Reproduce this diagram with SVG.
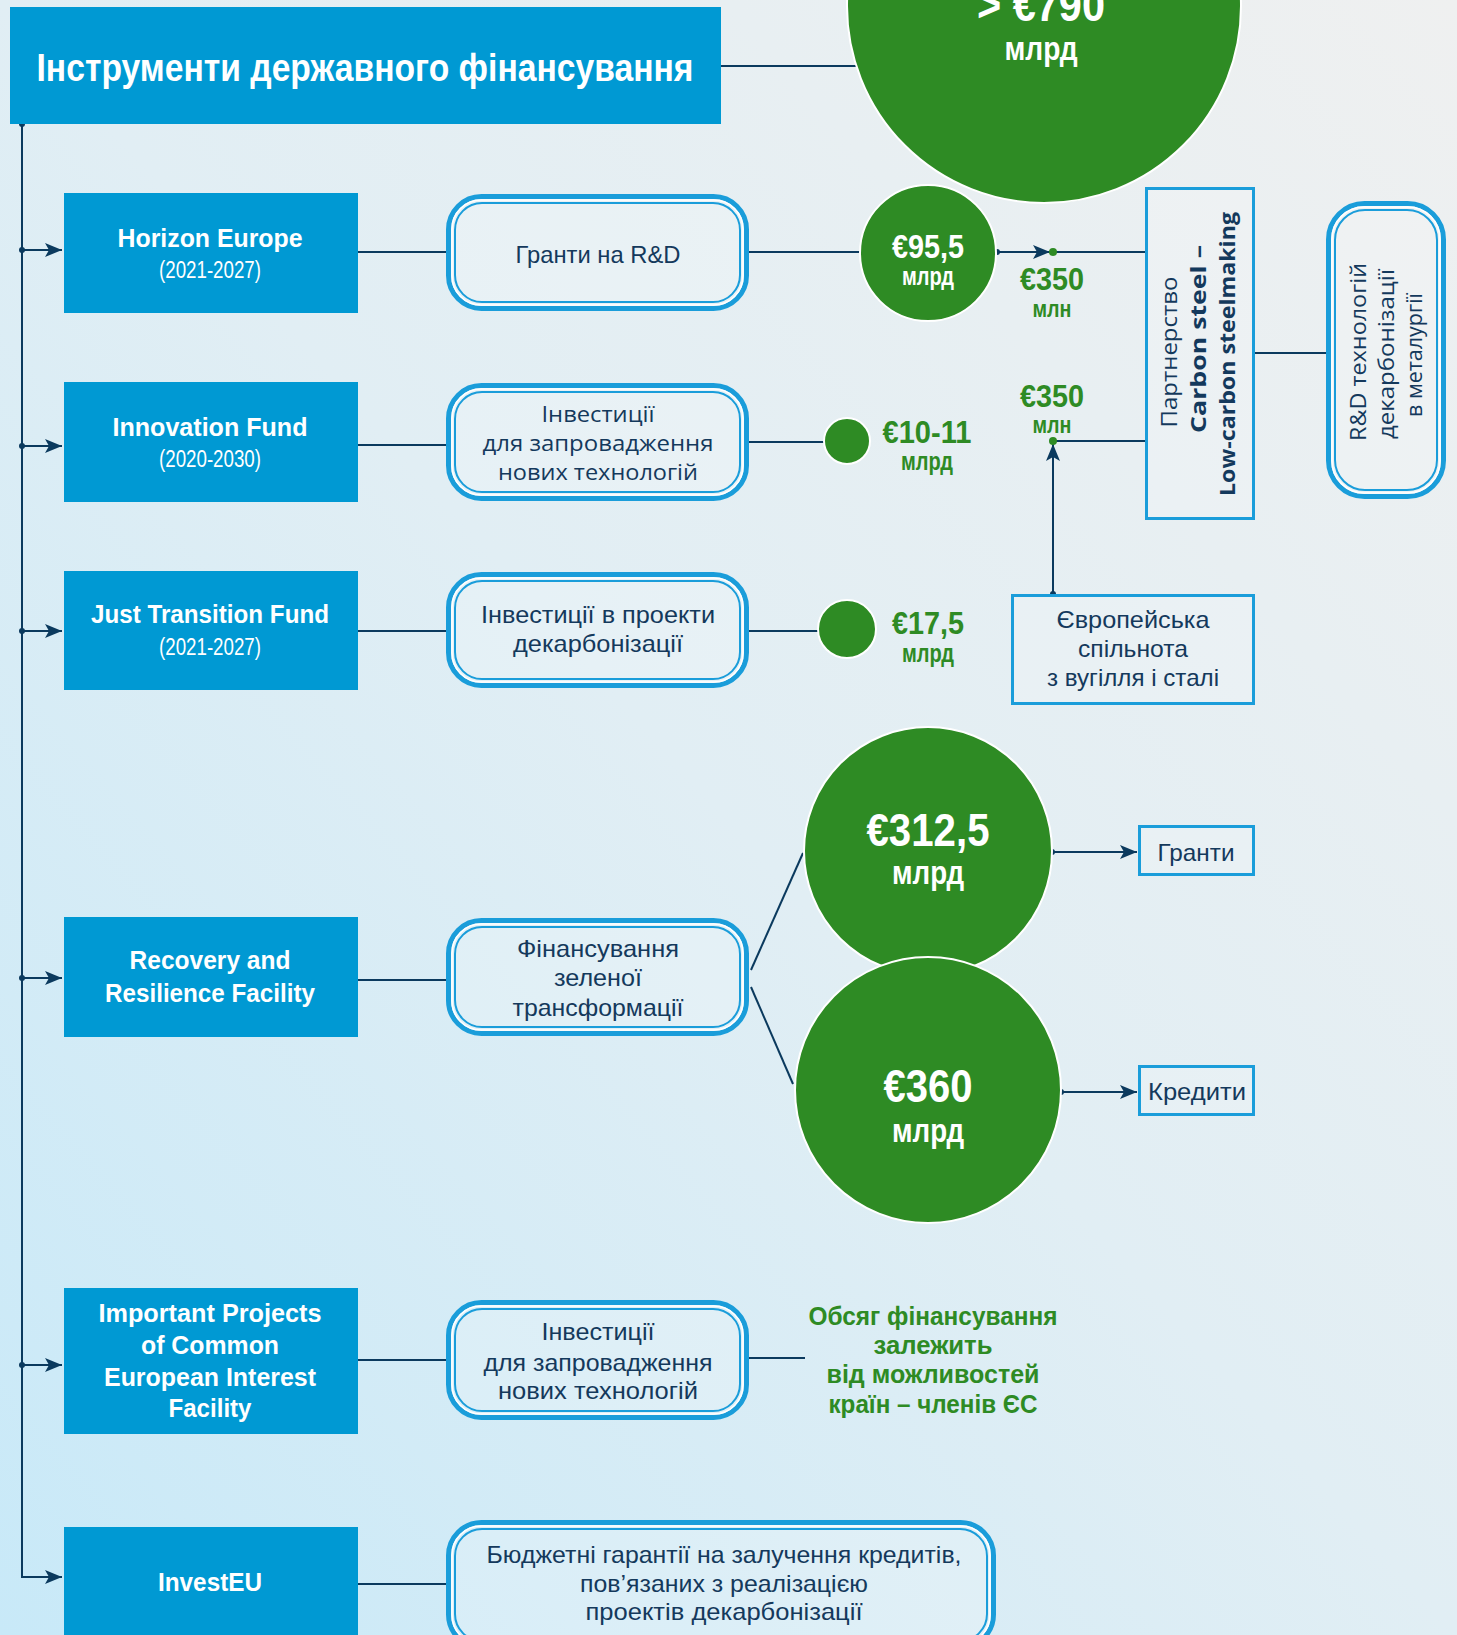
<svg xmlns="http://www.w3.org/2000/svg" width="1457" height="1635" viewBox="0 0 1457 1635">
<defs>
<linearGradient id="bg" x1="0" y1="1" x2="1" y2="0">
<stop offset="0" stop-color="#c8e9f8"/>
<stop offset="0.5" stop-color="#e1eef4"/>
<stop offset="1" stop-color="#eff0f0"/>
</linearGradient>
<marker id="arr" markerUnits="userSpaceOnUse" markerWidth="18" markerHeight="14" refX="17" refY="7" orient="auto">
<path d="M0,0 L17,7 L0,14 L4,7 Z" fill="#0b3a5e"/>
</marker>
<style>
.ln{fill:none;stroke:#0b3a5e;stroke-width:2}
.dot{fill:#0b3a5e}
.gdot{fill:#2e8b24}
.bb{fill:#0099d3}
.rbo{fill:#ffffff;fill-opacity:0.18;stroke:#1a9dda;stroke-width:5}
.rbg{fill:none;stroke:#ffffff;stroke-width:1.6}
.rbi{fill:none;stroke:#1a9dda;stroke-width:2}
.sq{fill:#ffffff;fill-opacity:0.15;stroke:#1a9dda;stroke-width:3}
.gc{fill:#2e8b24;stroke:#ffffff;stroke-width:2}
.tw{fill:#ffffff;font-family:"Liberation Sans",Arial,sans-serif;font-weight:bold;text-anchor:middle}
.twr{fill:#ffffff;font-family:"Liberation Sans",Arial,sans-serif;font-weight:normal;text-anchor:middle}
.tn{fill:#14395c;font-family:"Liberation Sans",Arial,sans-serif;text-anchor:middle}
.to{fill:#14395c;font-family:"Open Sans","Liberation Sans",sans-serif;text-anchor:middle}
.tg{fill:#2e8b24;font-family:"Liberation Sans",Arial,sans-serif;font-weight:bold;text-anchor:middle}
</style>
</defs>
<rect x="0" y="0" width="1457" height="1635" fill="url(#bg)"/>

<g id="connectors">
<path class="ln" d="M22 124 V1577 H62" marker-end="url(#arr)"/>
<path class="ln" d="M22 250 H62" marker-end="url(#arr)"/>
<path class="ln" d="M22 446 H62" marker-end="url(#arr)"/>
<path class="ln" d="M22 631 H62" marker-end="url(#arr)"/>
<path class="ln" d="M22 978 H62" marker-end="url(#arr)"/>
<path class="ln" d="M22 1365 H62" marker-end="url(#arr)"/>
<circle class="dot" cx="22" cy="124" r="3"/>
<circle class="dot" cx="22" cy="250" r="3"/>
<circle class="dot" cx="22" cy="446" r="3"/>
<circle class="dot" cx="22" cy="631" r="3"/>
<circle class="dot" cx="22" cy="978" r="3"/>
<circle class="dot" cx="22" cy="1365" r="3"/>
<path class="ln" d="M721 66 H870"/>
<path class="ln" d="M358 252 H446"/>
<path class="ln" d="M749 252 H862"/>
<path class="ln" d="M358 445 H446"/>
<path class="ln" d="M749 442 H826"/>
<path class="ln" d="M358 631 H446"/>
<path class="ln" d="M749 631 H819"/>
<path class="ln" d="M358 980 H446"/>
<path class="ln" d="M751 970 L803 853"/>
<path class="ln" d="M751 987 L793 1084"/>
<path class="ln" d="M358 1360 H446"/>
<path class="ln" d="M749 1358 H805"/>
<path class="ln" d="M358 1584 H446"/>
<path class="ln" d="M997 252 H1050" marker-end="url(#arr)"/>
<circle class="dot" cx="997" cy="252" r="3"/>
<path class="ln" d="M1053 252 H1145"/>
<circle class="gdot" cx="1053" cy="252" r="4"/>
<path class="ln" d="M1053 441 H1145"/>
<path class="ln" d="M1053 594 V444" marker-end="url(#arr)"/>
<circle class="dot" cx="1053" cy="594" r="3"/>
<circle class="gdot" cx="1053" cy="441" r="4"/>
<path class="ln" d="M1255 353 H1326"/>
<path class="ln" d="M1052 852 H1137" marker-end="url(#arr)"/>
<circle class="dot" cx="1052" cy="852" r="3"/>
<path class="ln" d="M1061 1092 H1137" marker-end="url(#arr)"/>
<circle class="dot" cx="1061" cy="1092" r="3"/>
</g>

<g id="title">
<rect class="bb" x="10" y="7" width="711" height="117"/>
<text class="tw" x="365" y="81" font-size="38" textLength="657" lengthAdjust="spacingAndGlyphs">Інструменти державного фінансування</text>
</g>

<g id="total">
<circle class="gc" cx="1044" cy="6" r="197"/>
<text class="tw" x="1041" y="21" font-size="46" textLength="128" lengthAdjust="spacingAndGlyphs">&gt; €790</text>
<text class="tw" x="1041" y="60" font-size="34" textLength="73" lengthAdjust="spacingAndGlyphs">млрд</text>
</g>

<g id="horizon">
<rect class="bb" x="64" y="193" width="294" height="120"/>
<text class="tw" x="210" y="247" font-size="25" textLength="185" lengthAdjust="spacingAndGlyphs">Horizon Europe</text>
<text class="twr" x="210" y="278" font-size="23" textLength="102" lengthAdjust="spacingAndGlyphs">(2021-2027)</text>
</g>
<g id="horizon-grants">
<rect class="rbo" x="448.5" y="196.5" width="298" height="112" rx="33"/>
<rect class="rbg" x="452" y="200" width="291" height="105" rx="29"/>
<rect class="rbi" x="455" y="203" width="285" height="99" rx="27"/>
<text class="tn" x="598" y="263" font-size="24" textLength="165" lengthAdjust="spacingAndGlyphs">Гранти на R&amp;D</text>
</g>
<g id="c955">
<circle class="gc" cx="928" cy="253" r="68"/>
<text class="tw" x="928" y="258" font-size="33" textLength="72" lengthAdjust="spacingAndGlyphs">€95,5</text>
<text class="tw" x="928" y="285" font-size="25" textLength="52" lengthAdjust="spacingAndGlyphs">млрд</text>
</g>
<g id="l350a">
<text class="tg" x="1052" y="290" font-size="32" textLength="64" lengthAdjust="spacingAndGlyphs">€350</text>
<text class="tg" x="1052" y="317" font-size="23" textLength="39" lengthAdjust="spacingAndGlyphs">млн</text>
</g>

<g id="innovation">
<rect class="bb" x="64" y="382" width="294" height="120"/>
<text class="tw" x="210" y="436" font-size="25" textLength="195" lengthAdjust="spacingAndGlyphs">Innovation Fund</text>
<text class="twr" x="210" y="467" font-size="23" textLength="102" lengthAdjust="spacingAndGlyphs">(2020-2030)</text>
</g>
<g id="innovation-inv">
<rect class="rbo" x="448.5" y="385.5" width="298" height="113" rx="33"/>
<rect class="rbg" x="452" y="389" width="291" height="106" rx="29"/>
<rect class="rbi" x="455" y="392" width="285" height="100" rx="27"/>
<text class="to" x="598" y="422" font-size="22" textLength="113" lengthAdjust="spacingAndGlyphs">Інвестиції</text>
<text class="to" x="598" y="451" font-size="22" textLength="231" lengthAdjust="spacingAndGlyphs">для запровадження</text>
<text class="to" x="598" y="480" font-size="22" textLength="200" lengthAdjust="spacingAndGlyphs">нових технологій</text>
</g>
<g id="c1011">
<circle class="gc" cx="847" cy="441" r="23"/>
<text class="tg" x="927" y="443" font-size="31" textLength="89" lengthAdjust="spacingAndGlyphs">€10-11</text>
<text class="tg" x="927" y="470" font-size="25" textLength="52" lengthAdjust="spacingAndGlyphs">млрд</text>
</g>
<g id="l350b">
<text class="tg" x="1052" y="407" font-size="32" textLength="64" lengthAdjust="spacingAndGlyphs">€350</text>
<text class="tg" x="1052" y="433" font-size="23" textLength="39" lengthAdjust="spacingAndGlyphs">млн</text>
</g>

<g id="partnership">
<rect class="sq" x="1146.5" y="188.5" width="107" height="330"/>
<text class="to" transform="translate(1177 352) rotate(-90)" font-size="22" textLength="151" lengthAdjust="spacingAndGlyphs">Партнерство</text>
<text class="to" transform="translate(1206 339) rotate(-90)" font-size="22" font-weight="bold" textLength="188" lengthAdjust="spacingAndGlyphs">Carbon steel –</text>
<text class="to" transform="translate(1235 354) rotate(-90)" font-size="22" font-weight="bold" textLength="284" lengthAdjust="spacingAndGlyphs">Low-carbon steelmaking</text>
</g>
<g id="rd">
<rect class="rbo" x="1328.5" y="203.5" width="115" height="293" rx="36"/>
<rect class="rbg" x="1332" y="207" width="108" height="286" rx="32"/>
<rect class="rbi" x="1335" y="210" width="102" height="280" rx="30"/>
<text class="to" transform="translate(1366 352) rotate(-90)" font-size="22" textLength="178" lengthAdjust="spacingAndGlyphs">R&amp;D технологій</text>
<text class="to" transform="translate(1394 354) rotate(-90)" font-size="22" textLength="170" lengthAdjust="spacingAndGlyphs">декарбонізації</text>
<text class="to" transform="translate(1422 355) rotate(-90)" font-size="22" textLength="124" lengthAdjust="spacingAndGlyphs">в металургії</text>
</g>

<g id="jtf">
<rect class="bb" x="64" y="571" width="294" height="119"/>
<text class="tw" x="210" y="623" font-size="25" textLength="238" lengthAdjust="spacingAndGlyphs">Just Transition Fund</text>
<text class="twr" x="210" y="655" font-size="23" textLength="102" lengthAdjust="spacingAndGlyphs">(2021-2027)</text>
</g>
<g id="jtf-inv">
<rect class="rbo" x="448.5" y="574.5" width="298" height="111" rx="33"/>
<rect class="rbg" x="452" y="578" width="291" height="104" rx="29"/>
<rect class="rbi" x="455" y="581" width="285" height="98" rx="27"/>
<text class="tn" x="598" y="623" font-size="24" textLength="234" lengthAdjust="spacingAndGlyphs">Інвестиції в проекти</text>
<text class="tn" x="598" y="652" font-size="24" textLength="170" lengthAdjust="spacingAndGlyphs">декарбонізації</text>
</g>
<g id="c175">
<circle class="gc" cx="847" cy="629" r="29"/>
<text class="tg" x="928" y="634" font-size="32" textLength="72" lengthAdjust="spacingAndGlyphs">€17,5</text>
<text class="tg" x="928" y="662" font-size="25" textLength="52" lengthAdjust="spacingAndGlyphs">млрд</text>
</g>
<g id="ecsc">
<rect class="sq" x="1012.5" y="595.5" width="241" height="108"/>
<text class="tn" x="1133" y="628" font-size="24" textLength="153" lengthAdjust="spacingAndGlyphs">Європейська</text>
<text class="tn" x="1133" y="657" font-size="24" textLength="110" lengthAdjust="spacingAndGlyphs">спільнота</text>
<text class="tn" x="1133" y="686" font-size="24" textLength="172" lengthAdjust="spacingAndGlyphs">з вугілля і сталі</text>
</g>

<g id="rrf">
<rect class="bb" x="64" y="917" width="294" height="120"/>
<text class="tw" x="210" y="969" font-size="25" textLength="161" lengthAdjust="spacingAndGlyphs">Recovery and</text>
<text class="tw" x="210" y="1002" font-size="25" textLength="210" lengthAdjust="spacingAndGlyphs">Resilience Facility</text>
</g>
<g id="rrf-fin">
<rect class="rbo" x="448.5" y="920.5" width="298" height="113" rx="33"/>
<rect class="rbg" x="452" y="924" width="291" height="106" rx="29"/>
<rect class="rbi" x="455" y="927" width="285" height="100" rx="27"/>
<text class="tn" x="598" y="957" font-size="24" textLength="162" lengthAdjust="spacingAndGlyphs">Фінансування</text>
<text class="tn" x="598" y="986" font-size="24" textLength="88" lengthAdjust="spacingAndGlyphs">зеленої</text>
<text class="tn" x="598" y="1016" font-size="24" textLength="171" lengthAdjust="spacingAndGlyphs">трансформації</text>
</g>
<g id="c3125">
<circle class="gc" cx="928" cy="851" r="124"/>
<text class="tw" x="928" y="846" font-size="46" textLength="123" lengthAdjust="spacingAndGlyphs">€312,5</text>
<text class="tw" x="928" y="884" font-size="34" textLength="72" lengthAdjust="spacingAndGlyphs">млрд</text>
</g>
<g id="c360">
<circle class="gc" cx="928" cy="1090" r="133"/>
<text class="tw" x="928" y="1102" font-size="46" textLength="89" lengthAdjust="spacingAndGlyphs">€360</text>
<text class="tw" x="928" y="1142" font-size="34" textLength="72" lengthAdjust="spacingAndGlyphs">млрд</text>
</g>
<g id="grants">
<rect class="sq" x="1139.5" y="826.5" width="114" height="48"/>
<text class="tn" x="1196" y="861" font-size="24" textLength="77" lengthAdjust="spacingAndGlyphs">Гранти</text>
</g>
<g id="credits">
<rect class="sq" x="1139.5" y="1066.5" width="114" height="48"/>
<text class="tn" x="1197" y="1100" font-size="24" textLength="98" lengthAdjust="spacingAndGlyphs">Кредити</text>
</g>

<g id="ipcei">
<rect class="bb" x="64" y="1288" width="294" height="146"/>
<text class="tw" x="210" y="1322" font-size="25" textLength="223" lengthAdjust="spacingAndGlyphs">Important Projects</text>
<text class="tw" x="210" y="1354" font-size="25" textLength="138" lengthAdjust="spacingAndGlyphs">of Common</text>
<text class="tw" x="210" y="1386" font-size="25" textLength="212" lengthAdjust="spacingAndGlyphs">European Interest</text>
<text class="tw" x="210" y="1417" font-size="25" textLength="83" lengthAdjust="spacingAndGlyphs">Facility</text>
</g>
<g id="ipcei-inv">
<rect class="rbo" x="448.5" y="1302.5" width="298" height="115" rx="33"/>
<rect class="rbg" x="452" y="1306" width="291" height="108" rx="29"/>
<rect class="rbi" x="455" y="1309" width="285" height="102" rx="27"/>
<text class="tn" x="598" y="1340" font-size="24" textLength="113" lengthAdjust="spacingAndGlyphs">Інвестиції</text>
<text class="tn" x="598" y="1371" font-size="24" textLength="229" lengthAdjust="spacingAndGlyphs">для запровадження</text>
<text class="tn" x="598" y="1399" font-size="24" textLength="200" lengthAdjust="spacingAndGlyphs">нових технологій</text>
</g>
<g id="ipcei-note">
<text class="tg" x="933" y="1325" font-size="25" textLength="249" lengthAdjust="spacingAndGlyphs">Обсяг фінансування</text>
<text class="tg" x="933" y="1354" font-size="25" textLength="119" lengthAdjust="spacingAndGlyphs">залежить</text>
<text class="tg" x="933" y="1383" font-size="25" textLength="213" lengthAdjust="spacingAndGlyphs">від можливостей</text>
<text class="tg" x="933" y="1413" font-size="25" textLength="209" lengthAdjust="spacingAndGlyphs">країн – членів ЄС</text>
</g>

<g id="investeu">
<rect class="bb" x="64" y="1527" width="294" height="120"/>
<text class="tw" x="210" y="1591" font-size="25" textLength="104" lengthAdjust="spacingAndGlyphs">InvestEU</text>
</g>
<g id="investeu-guar">
<rect class="rbo" x="448.5" y="1522.5" width="545" height="125" rx="33"/>
<rect class="rbg" x="452" y="1526" width="538" height="118" rx="29"/>
<rect class="rbi" x="455" y="1529" width="532" height="112" rx="27"/>
<text class="tn" x="724" y="1563" font-size="24" textLength="475" lengthAdjust="spacingAndGlyphs">Бюджетні гарантії на залучення кредитів,</text>
<text class="tn" x="724" y="1592" font-size="24" textLength="288" lengthAdjust="spacingAndGlyphs">пов’язаних з реалізацією</text>
<text class="tn" x="724" y="1620" font-size="24" textLength="277" lengthAdjust="spacingAndGlyphs">проектів декарбонізації</text>
</g>
</svg>
